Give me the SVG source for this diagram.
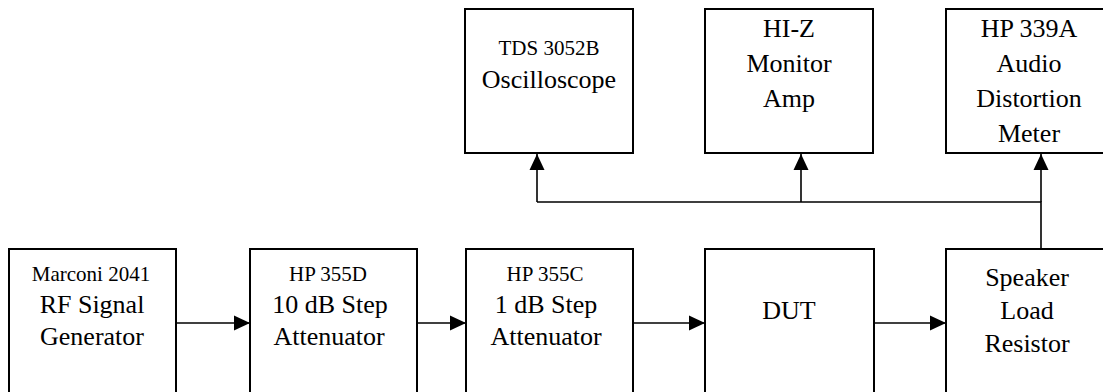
<svg xmlns="http://www.w3.org/2000/svg" width="1103" height="392" viewBox="0 0 1103 392">
<style>
.box{fill:#fff;stroke:#000;stroke-width:2}
text{font-family:'Liberation Serif','Times New Roman',Times,Tinos,'DejaVu Serif','Noto Serif',serif;font-size:26px;text-anchor:middle;fill:#000}
text.s{font-size:21px}
.c{fill:none;stroke:#000;stroke-width:1.6}
</style>
<defs>
<marker id="ah" markerUnits="userSpaceOnUse" markerWidth="16" markerHeight="16" viewBox="0 0 16 16" refX="16" refY="8" orient="auto">
<path d="M0,0.5 L16,8 L0,15.5 Z" fill="#000"/>
</marker>
</defs>
<rect width="1103" height="392" fill="#fff"/>
<g id="connectors">
<line class="c" x1="176" y1="323" x2="250" y2="323" marker-end="url(#ah)"/>
<line class="c" x1="417" y1="323" x2="466" y2="323" marker-end="url(#ah)"/>
<line class="c" x1="633" y1="323" x2="705" y2="323" marker-end="url(#ah)"/>
<line class="c" x1="874" y1="323" x2="946" y2="323" marker-end="url(#ah)"/>
<polyline class="c" points="1041,249 1041,202 537,202"/>
<line class="c" x1="1041" y1="202" x2="1041" y2="154" marker-end="url(#ah)"/>
<line class="c" x1="537" y1="202" x2="537" y2="154" marker-end="url(#ah)"/>
<line class="c" x1="801" y1="202" x2="801" y2="154" marker-end="url(#ah)"/>
</g>
<g id="n-gen">
<rect class="box" x="9" y="249" width="167" height="160"/>
<text class="s" x="91" y="281">Marconi 2041</text>
<text x="92" y="313">RF Signal</text>
<text x="92" y="345">Generator</text>
</g>
<g id="n-att10">
<rect class="box" x="250" y="249" width="167" height="160"/>
<text class="s" x="328" y="281">HP 355D</text>
<text x="330" y="313">10 dB Step</text>
<text x="329" y="345">Attenuator</text>
</g>
<g id="n-att1">
<rect class="box" x="466" y="249" width="167" height="160"/>
<text class="s" x="545" y="281">HP 355C</text>
<text x="546" y="313">1 dB Step</text>
<text x="546" y="345">Attenuator</text>
</g>
<g id="n-dut">
<rect class="box" x="705" y="249" width="169" height="160"/>
<text x="789" y="319">DUT</text>
</g>
<g id="n-load">
<rect class="box" x="946" y="249" width="167" height="160"/>
<text x="1027" y="286">Speaker</text>
<text x="1027" y="319">Load</text>
<text x="1027" y="352">Resistor</text>
</g>
<g id="n-scope">
<rect class="box" x="465" y="9" width="168" height="144"/>
<text class="s" x="549" y="55">TDS 3052B</text>
<text x="549" y="88">Oscilloscope</text>
</g>
<g id="n-hiz">
<rect class="box" x="705" y="9" width="168" height="144"/>
<text x="789" y="37">HI-Z</text>
<text x="789" y="72">Monitor</text>
<text x="789" y="107">Amp</text>
</g>
<g id="n-dist">
<rect class="box" x="946" y="9" width="167" height="144"/>
<text x="1029" y="37">HP 339A</text>
<text x="1029" y="72">Audio</text>
<text x="1029" y="107">Distortion</text>
<text x="1029" y="142">Meter</text>
</g>
</svg>
